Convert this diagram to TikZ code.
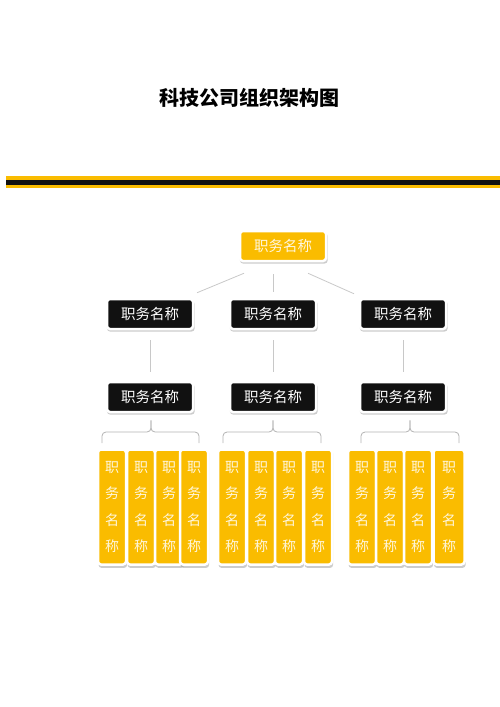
\documentclass[tikz,border=0pt]{standalone}
\usepackage{fontspec}
\setmainfont{Noto Sans CJK SC}
\usetikzlibrary{shadows,calc}
\definecolor{gold}{RGB}{250,188,0}
\definecolor{ink}{RGB}{17,17,17}
\definecolor{cream}{RGB}{255,247,222}
\definecolor{linegray}{RGB}{200,200,200}
\tikzset{
  boxbase/.style={draw=white,line width=2.5pt,rounded corners=3pt,
    drop shadow={shadow xshift=0.8pt,shadow yshift=-2.2pt,shadow scale=1.02,fill=black!40,opacity=0.5},
    inner sep=0pt,font=\fontsize{14.5}{16}\selectfont},
  topbox/.style={boxbase,fill=gold,text=cream,minimum width=86pt,minimum height=30pt},
  darkbox/.style={boxbase,fill=ink,text=white,minimum width=86pt,minimum height=30pt},
  vbox/.style={boxbase,fill=gold,text=cream,minimum width=28pt,minimum height=115pt,
    align=center,font=\fontsize{14}{26.5}\selectfont},
  conn/.style={draw=linegray,line width=0.8pt},
  brace/.style={draw=black!30,line width=0.8pt,rounded corners=4pt}
}
\begin{document}
\begin{tikzpicture}[x=1pt,y=-1pt]
\useasboundingbox (0,0) rectangle (500,707);
% title
\node[font=\bfseries\fontsize{20}{22}\selectfont] (title) at (249,98) {科技公司组织架构图};
% band
\fill[gold] (6,176) rectangle (500,188);
\fill[ink] (6,179.6) rectangle (500,184.6);
% top
\node[topbox] (top) at (283,246) {职务名称};
% level 2
\node[darkbox] (l2a) at (150,314) {职务名称};
\node[darkbox] (l2b) at (273,314) {职务名称};
\node[darkbox] (l2c) at (403,314) {职务名称};
% level 3
\node[darkbox] (l3a) at (150,397) {职务名称};
\node[darkbox] (l3b) at (273,397) {职务名称};
\node[darkbox] (l3c) at (403,397) {职务名称};
% connectors top -> level 2
\draw[conn] ($(top.south)+(-39,11)$) -- ($(l2a.north)+(47,-5)$);
\draw[conn] ($(top.south -| l2b.north)+(0,12)$) -- ($(l2b.north)+(0,-6)$);
\draw[conn] ($(top.south)+(25,11)$) -- ($(l2c.north)+(-49,-4)$);
% level 2 -> level 3
\draw[conn] ($(l2a.south)+(0,10)$) -- ($(l3a.north)+(0,-9)$);
\draw[conn] ($(l2b.south)+(0,10)$) -- ($(l3b.north)+(0,-9)$);
\draw[conn] ($(l2c.south)+(0,10)$) -- ($(l3c.north)+(0,-9)$);
% braces
\coordinate (ba) at ($(l3a.south)+(1,7)$);
\coordinate (bb) at ($(l3b.south)+(0,7)$);
\coordinate (bc) at ($(l3c.south)+(7,7)$);
\foreach \b/\l/\r in {ba/102/199, bb/223/321, bc/361/459}{
  \draw[brace] (\b) -- (\b |- 0,432) -- (\l,432) -- (\l,443);
  \draw[brace] (\b) -- (\b |- 0,432) -- (\r,432) -- (\r,443);
}
% level 4
\node[vbox] (a1) at (112,507) {职\\务\\名\\称};
\node[vbox] (a2) at (141,507) {职\\务\\名\\称};
\node[vbox] (a3) at (169,507) {职\\务\\名\\称};
\node[vbox] (a4) at (194,507) {职\\务\\名\\称};
\node[vbox] (b1) at (232,507) {职\\务\\名\\称};
\node[vbox] (b2) at (261,507) {职\\务\\名\\称};
\node[vbox] (b3) at (289,507) {职\\务\\名\\称};
\node[vbox] (b4) at (318,507) {职\\务\\名\\称};
\node[vbox] (c1) at (362,507) {职\\务\\名\\称};
\node[vbox] (c2) at (390,507) {职\\务\\名\\称};
\node[vbox] (c3) at (418,507) {职\\务\\名\\称};
\node[vbox,minimum width=31pt] (c4) at (449,507) {职\\务\\名\\称};
\end{tikzpicture}
\end{document}
